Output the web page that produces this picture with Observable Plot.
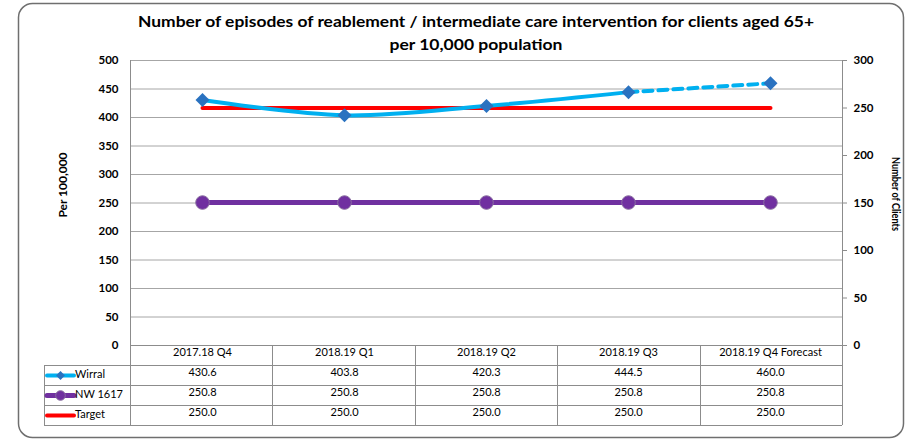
<!DOCTYPE html>
<html>
<head>
<meta charset="utf-8">
<script src="https://cdn.jsdelivr.net/npm/d3@7"></script>
<script src="https://cdn.jsdelivr.net/npm/@observablehq/plot@0.6"></script>
<style>
  html, body { margin: 0; padding: 0; background: #fff; }
  svg { font-family: Lato, "Open Sans", sans-serif; }
</style>
</head>
<body>
<div id="chart"></div>
<script>
const categories = ["2017.18 Q4", "2018.19 Q1", "2018.19 Q2", "2018.19 Q3", "2018.19 Q4 Forecast"];
const wirral = [430.6, 403.8, 420.3, 444.5, 460.0];
const nw1617 = [250.8, 250.8, 250.8, 250.8, 250.8];
const target = [250.0, 250.0, 250.0, 250.0, 250.0]; // secondary axis (Number of Clients)
const leftTicks = [0, 50, 100, 150, 200, 250, 300, 350, 400, 450, 500];
const rightTicks = [0, 50, 100, 150, 200, 250, 300];
const titleLines = ["Number of episodes of reablement / intermediate care intervention for clients aged 65+", "per 10,000 population"];
const leftTitle = "Per 100,000";
const rightTitle = "Number of Clients";
const seriesNames = ["Wirral", "NW 1617", "Target"];

const LEFT_MAX = 500, RIGHT_MAX = 300;
const toLeft = v => v * LEFT_MAX / RIGHT_MAX;

const W = 906, H = 443;
const mL = 130, mR = 64, mT = 60, mB = 98;
const rowH = 20;

const rows = categories.map((c, i) => ({c, w: wirral[i], nw: nw1617[i], t: target[i], tL: toLeft(target[i])}));
const solid = rows.slice(0, 4);
const dashed = rows.slice(3, 5);

const chart = Plot.plot({
  width: W, height: H,
  marginLeft: mL, marginRight: mR, marginTop: mT, marginBottom: mB,
  style: {fontFamily: "Lato, 'Open Sans', sans-serif", fontSize: "11px", color: "#000", background: "#fff"},
  x: {type: "point", domain: categories, padding: 0.5, axis: null},
  y: {domain: [0, LEFT_MAX], axis: null},
  marks: [
    Plot.ruleY(leftTicks.slice(1), {stroke: "#a6a6a6", strokeWidth: 1}),
    Plot.axisY({anchor: "left", ticks: leftTicks, tickSize: 0, tickPadding: 12, fontWeight: "bold", fontSize: 11.5, label: null}),
    Plot.axisY({anchor: "right", ticks: rightTicks.map(toLeft), tickFormat: d => Math.round(d * RIGHT_MAX / LEFT_MAX), tickSize: 4, tickPadding: 7, fontWeight: "bold", fontSize: 11.5, stroke: "#8c8c8c", label: null}),
    // NW 1617
    Plot.line(rows, {x: "c", y: "nw", stroke: "#7030a0", strokeWidth: 5}),
    // Target (secondary axis)
    Plot.line(rows, {x: "c", y: "tL", stroke: "#ff0000", strokeWidth: 4, strokeLinecap: "round"}),
    // Wirral
    Plot.line(solid, {x: "c", y: "w", stroke: "#00b0f0", strokeWidth: 4, curve: "catmull-rom"}),
    Plot.line(dashed, {x: "c", y: "w", stroke: "#00b0f0", strokeWidth: 4, strokeDasharray: "9,6"}),
    Plot.dot(rows, {x: "c", y: "nw", r: 6.8, fill: "#7030a0", stroke: "#8a6fa0", strokeWidth: 1, ariaLabel: "nw-dots"}),
    Plot.dot(rows, {x: "c", y: "w", symbol: "diamond2", r: 6.3, fill: "#2a72c0", stroke: "none", ariaLabel: "wirral-dots"}),
    // data table text
    Plot.text(categories, {x: d => d, text: d => d, frameAnchor: "bottom", dy: rowH * 0.5 + 0.5, fill: "#000"}),
    Plot.text(rows, {x: "c", text: d => d.w.toFixed(1), frameAnchor: "bottom", dy: rowH * 1.5 + 0.5, fill: "#000"}),
    Plot.text(rows, {x: "c", text: d => d.nw.toFixed(1), frameAnchor: "bottom", dy: rowH * 2.5 + 0.5, fill: "#000"}),
    Plot.text(rows, {x: "c", text: d => d.t.toFixed(1), frameAnchor: "bottom", dy: rowH * 3.5 + 0.5, fill: "#000"})
  ]
});

document.getElementById("chart").appendChild(chart);

const svg = d3.select(chart);
// drop shadow for markers
const defs = svg.append("defs");
const f = defs.append("filter").attr("id", "mshadow").attr("x", "-50%").attr("y", "-50%").attr("width", "200%").attr("height", "200%");
f.append("feDropShadow").attr("dx", -0.5).attr("dy", 1.5).attr("stdDeviation", 1.5).attr("flood-color", "#000").attr("flood-opacity", 0.45);
svg.selectAll("g[aria-label='nw-dots'], g[aria-label='wirral-dots']").attr("filter", "url(#mshadow)");

// outer border
const step = (W - mL - mR) / categories.length;
const frameTop = mT, frameBot = H - mB;
svg.insert("rect", ":first-child").attr("x", 18.5).attr("y", 3.5).attr("width", 885).attr("height", 434)
  .attr("rx", 14).attr("fill", "none").attr("stroke", "#6f6f6f").attr("stroke-width", 1.5);

// table grid
const lines = svg.append("g").attr("stroke", "#8c8c8c").attr("stroke-width", 1).attr("fill", "none");
const edges = categories.map((c, i) => mL + i * step).concat([W - mR]);
lines.append("line").attr("x1", mL).attr("x2", W - mR).attr("y1", frameBot + 0.5).attr("y2", frameBot + 0.5);
for (let r = 1; r <= 4; r++) {
  lines.append("line").attr("x1", 44).attr("x2", W - mR).attr("y1", frameBot + r * rowH + 0.5).attr("y2", frameBot + r * rowH + 0.5);
}
edges.forEach((ex, i) => {
  const y1 = (i === 0 || i === edges.length - 1) ? frameTop : frameBot;
  lines.append("line").attr("x1", Math.round(ex) + 0.5).attr("x2", Math.round(ex) + 0.5).attr("y1", y1).attr("y2", frameBot + 4 * rowH);
});
lines.append("line").attr("x1", 44.5).attr("x2", 44.5).attr("y1", frameBot + rowH).attr("y2", frameBot + 4 * rowH);

// titles
const tg = svg.append("g").attr("font-weight", "bold").attr("fill", "#000");
tg.append("text").attr("x", 476).attr("y", 23).attr("text-anchor", "middle").attr("dominant-baseline", "middle")
  .attr("font-size", 16).attr("textLength", 676).attr("lengthAdjust", "spacingAndGlyphs").text(titleLines[0]);
tg.append("text").attr("x", 476).attr("y", 46).attr("text-anchor", "middle").attr("dominant-baseline", "middle")
  .attr("font-size", 16).attr("textLength", 173).attr("lengthAdjust", "spacingAndGlyphs").text(titleLines[1]);
tg.append("text").attr("transform", "translate(64,185) rotate(-90)").attr("text-anchor", "middle")
  .attr("dominant-baseline", "middle").attr("font-size", 12).attr("textLength", 65).attr("lengthAdjust", "spacingAndGlyphs").text(leftTitle);
tg.append("text").attr("transform", "translate(895,194) rotate(90)").attr("text-anchor", "middle")
  .attr("dominant-baseline", "middle").attr("font-size", 11.5).attr("textLength", 74).attr("lengthAdjust", "spacingAndGlyphs").text(rightTitle);

// legend keys in the table
const keys = [
  {name: seriesNames[0], color: "#00b0f0", w: 4, marker: "diamond", mcolor: "#2a72c0"},
  {name: seriesNames[1], color: "#7030a0", w: 5, marker: "circle", mcolor: "#7030a0"},
  {name: seriesNames[2], color: "#ff0000", w: 4, marker: null}
];
keys.forEach((k, i) => {
  const cy = frameBot + (i + 1.5) * rowH + 0.5;
  const kg = svg.append("g");
  kg.append("line").attr("x1", 47).attr("x2", 74).attr("y1", cy).attr("y2", cy)
    .attr("stroke", k.color).attr("stroke-width", k.w).attr("stroke-linecap", "round");
  if (k.marker === "diamond") {
    kg.append("path").attr("d", d3.symbol(d3.symbolDiamond2, 50)()).attr("transform", `translate(60.5,${cy})`).attr("fill", k.mcolor);
  } else if (k.marker === "circle") {
    kg.append("circle").attr("cx", 60.5).attr("cy", cy).attr("r", 4.8).attr("fill", k.mcolor).attr("stroke", "#8a6fa0");
  }
  kg.append("text").attr("x", 75).attr("y", cy).attr("text-anchor", "start").attr("dominant-baseline", "middle")
    .attr("font-size", 11).attr("fill", "#000").text(k.name);
});
</script>
</body>
</html>
